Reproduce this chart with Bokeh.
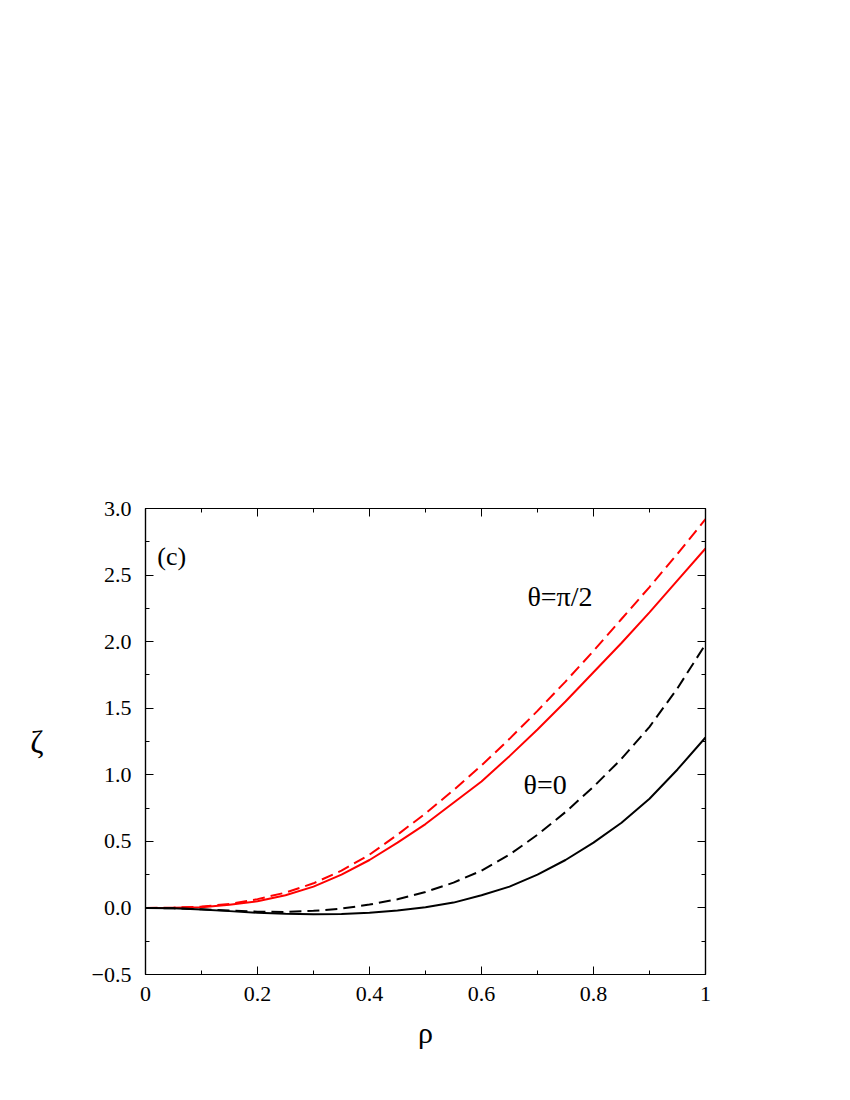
from bokeh.plotting import figure
from bokeh.models import LinearAxis, FixedTicker, Range1d
from bokeh.core.properties import value
from bokeh.embed import file_html
from bokeh.resources import INLINE

rho = [0.0, 0.05, 0.1, 0.15, 0.2, 0.25, 0.3, 0.35, 0.4, 0.45, 0.5,
       0.55, 0.6, 0.65, 0.7, 0.75, 0.8, 0.85, 0.9, 0.95, 1.0]

red_dashed = [0.0, 0.002, 0.01, 0.03, 0.066, 0.115, 0.185, 0.28, 0.40, 0.55, 0.71,
              0.885, 1.07, 1.27, 1.48, 1.70, 1.93, 2.17, 2.41, 2.66, 2.92]
red_solid = [0.0, 0.001, 0.006, 0.024, 0.05, 0.095, 0.16, 0.25, 0.36, 0.49, 0.63,
             0.79, 0.95, 1.14, 1.34, 1.55, 1.77, 1.99, 2.22, 2.46, 2.70]
black_dashed = [0.0, -0.003, -0.01, -0.02, -0.028, -0.03, -0.022, -0.005, 0.025, 0.065, 0.12,
                0.19, 0.28, 0.40, 0.55, 0.72, 0.91, 1.12, 1.36, 1.65, 1.98]
black_solid = [0.0, -0.003, -0.012, -0.024, -0.036, -0.044, -0.048, -0.046, -0.037, -0.02, 0.005,
               0.04, 0.095, 0.16, 0.25, 0.36, 0.49, 0.64, 0.82, 1.04, 1.28]

x_ticks = [0, 0.2, 0.4, 0.6, 0.8, 1.0]
x_tick_labels = ["0", "0.2", "0.4", "0.6", "0.8", "1"]
y_ticks = [-0.5, 0.0, 0.5, 1.0, 1.5, 2.0, 2.5, 3.0]
y_tick_labels = ["\u22120.5", "0.0", "0.5", "1.0", "1.5", "2.0", "2.5", "3.0"]

panel_text = ["(c)"]
panel_x = [0.021]
panel_y = [2.64]

curve_text = ["\u03b8=\u03c0/2", "\u03b8=0"]
curve_x = [0.682, 0.675]
curve_y = [2.34, 0.93]

FONT = "'Liberation Serif', 'Times New Roman', serif"

p = figure(width=850, height=1090, output_backend="svg", toolbar_location=None,
           x_range=Range1d(0, 1), y_range=Range1d(-0.5, 3.0),
           min_border_left=145, min_border_right=145, min_border_top=508,
           min_border_bottom=116, x_axis_location=None, y_axis_location=None)
p.grid.visible = False
p.outline_line_color = "black"
p.outline_line_width = 1.2
p.background_fill_color = "white"
p.border_fill_color = "white"

xt = FixedTicker(ticks=x_ticks, minor_ticks=[0.1, 0.3, 0.5, 0.7, 0.9])
yt = FixedTicker(ticks=y_ticks, minor_ticks=[-0.25, 0.25, 0.75, 1.25, 1.75, 2.25, 2.75])


def style(ax):
    ax.axis_line_color = "black"
    ax.axis_line_width = 1.2
    ax.major_tick_in = 8
    ax.major_tick_out = 0
    ax.minor_tick_in = 4
    ax.minor_tick_out = 0
    ax.major_tick_line_color = "black"
    ax.minor_tick_line_color = "black"
    ax.major_label_text_font = FONT
    ax.major_label_text_font_size = "22px"
    ax.major_label_text_color = "black"
    ax.axis_label_text_font = FONT
    ax.axis_label_text_font_style = "normal"
    ax.axis_label_text_font_size = "30px"
    ax.axis_label_text_color = "black"


xb = LinearAxis(ticker=xt, axis_label="\u03c1")
style(xb)
xb.major_label_overrides = {t: l for t, l in zip(x_ticks, x_tick_labels)}
xb.major_label_standoff = 12
xb.axis_label_standoff = 12
p.add_layout(xb, "below")

yl = LinearAxis(ticker=yt, axis_label="\u03b6")
style(yl)
yl.major_label_overrides = {t: l for t, l in zip(y_ticks, y_tick_labels)}
yl.major_label_standoff = 14
yl.axis_label_standoff = 45
yl.axis_label_orientation = "horizontal"
yl.axis_label_text_font_size = "32px"
p.add_layout(yl, "left")

xa = LinearAxis(ticker=xt)
style(xa)
xa.major_label_overrides = {t: "" for t in x_ticks}
p.add_layout(xa, "above")

yr = LinearAxis(ticker=yt)
style(yr)
yr.major_label_overrides = {t: "" for t in y_ticks}
p.add_layout(yr, "right")

p.line(rho, red_dashed, line_color="red", line_width=2, line_dash="12 6")
p.line(rho, red_solid, line_color="red", line_width=2)
p.line(rho, black_dashed, line_color="black", line_width=2, line_dash="12 6")
p.line(rho, black_solid, line_color="black", line_width=2)

p.text(x=panel_x, y=panel_y, text=panel_text, text_font=value(FONT),
       text_font_size="26px", text_align="left", text_baseline="middle",
       text_color="black")
p.text(x=curve_x, y=curve_y, text=curve_text, text_font=value(FONT),
       text_font_size="28px", text_align="left", text_baseline="middle",
       text_color="black")

open("out.html", "w").write(file_html(p, INLINE))
